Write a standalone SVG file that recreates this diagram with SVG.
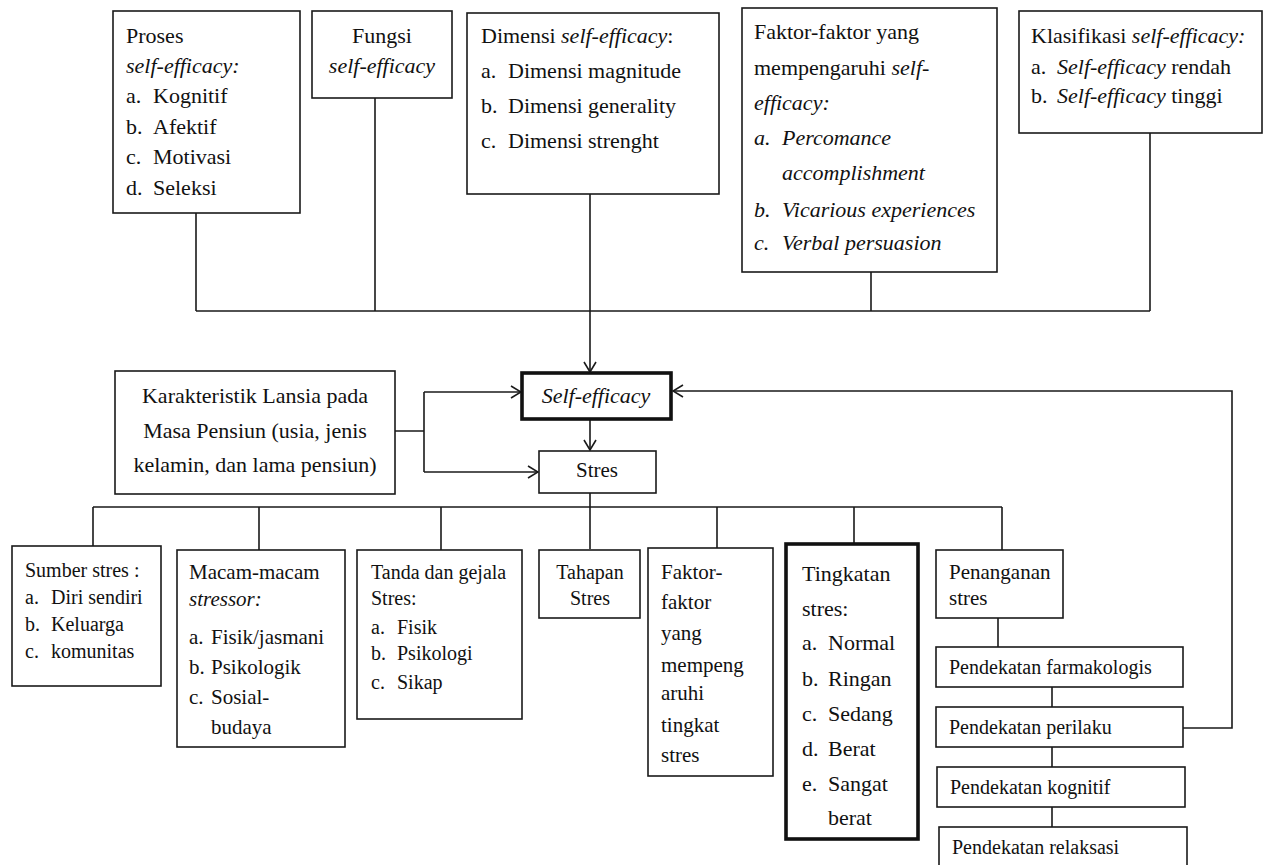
<svg xmlns="http://www.w3.org/2000/svg" width="1267" height="865" viewBox="0 0 1267 865">
<style>
.box{fill:#fff;stroke:#1a1a1a;stroke-width:1.6}
.thick{fill:#fff;stroke:#111;stroke-width:3.6}
.ln{fill:none;stroke:#1a1a1a;stroke-width:1.6}
text{font-family:"Liberation Serif","Times New Roman",serif;fill:#111;font-size:22px}
.i{font-style:italic}
.c{text-anchor:middle}
.s20{font-size:20px}
.s21{font-size:21px}
</style>
<defs>
<marker id="arr" markerWidth="12" markerHeight="14" refX="11" refY="7" orient="auto" markerUnits="userSpaceOnUse">
<path d="M1,1 L11,7 L1,13" fill="none" stroke="#1a1a1a" stroke-width="1.6"/>
</marker>
</defs>
<rect width="1267" height="865" fill="#fff"/>

<g id="connectors">
<path class="ln" d="M196,213 V311 M375,98 V311 M590,194 V311 M871,272 V311 M1150,133 V311 M196,311 H1150"/>
<path class="ln" d="M590,311 V372" marker-end="url(#arr)"/>
<path class="ln" d="M395,431 H424 M424,392 V472"/>
<path class="ln" d="M424,392 H521" marker-end="url(#arr)"/>
<path class="ln" d="M424,472 H538" marker-end="url(#arr)"/>
<path class="ln" d="M590,419 V450" marker-end="url(#arr)"/>
<path class="ln" d="M590,493 V507 M93,507 H1002 M93,507 V546 M259,507 V550 M441,507 V550 M590,507 V549 M717,507 V548 M854,507 V543 M1002,507 V550"/>
<path class="ln" d="M998,618 V647 M1052,687 V707 M1052,747 V767 M1052,807 V827"/>
<path class="ln" d="M1183,728 H1232 V391 H673" marker-end="url(#arr)"/>
</g>

<g id="proses">
<rect class="box" x="113" y="11" width="187" height="202"/>
<text x="126" y="43">Proses</text>
<text x="126" y="73" class="i">self-efficacy:</text>
<text x="126" y="103">a.</text><text x="153" y="103">Kognitif</text>
<text x="126" y="134">b.</text><text x="153" y="134">Afektif</text>
<text x="126" y="164">c.</text><text x="153" y="164">Motivasi</text>
<text x="126" y="195">d.</text><text x="153" y="195">Seleksi</text>
</g>

<g id="fungsi">
<rect class="box" x="312" y="11" width="140" height="87"/>
<text x="382" y="43" class="c">Fungsi</text>
<text x="382" y="73" class="c i">self-efficacy</text>
</g>

<g id="dimensi">
<rect class="box" x="467" y="13" width="252" height="181"/>
<text x="481" y="43">Dimensi <tspan class="i">self-efficacy</tspan>:</text>
<text x="481" y="78">a.</text><text x="508" y="78">Dimensi magnitude</text>
<text x="481" y="113">b.</text><text x="508" y="113">Dimensi generality</text>
<text x="481" y="148">c.</text><text x="508" y="148">Dimensi strenght</text>
</g>

<g id="faktor-se">
<rect class="box" x="742" y="8" width="255" height="264"/>
<text x="754" y="39">Faktor-faktor yang</text>
<text x="754" y="75">mempengaruhi <tspan class="i">self-</tspan></text>
<text x="754" y="110" class="i">efficacy:</text>
<text x="754" y="145" class="i">a.</text><text x="782" y="145" class="i">Percomance</text>
<text x="782" y="180" class="i">accomplishment</text>
<text x="754" y="217" class="i">b.</text><text x="782" y="217" class="i">Vicarious experiences</text>
<text x="754" y="250" class="i">c.</text><text x="782" y="250" class="i">Verbal persuasion</text>
</g>

<g id="klasifikasi">
<rect class="box" x="1019" y="11" width="243" height="122"/>
<text x="1031" y="43">Klasifikasi <tspan class="i">self-efficacy:</tspan></text>
<text x="1031" y="74">a.</text><text x="1057" y="74"><tspan class="i">Self-efficacy</tspan> rendah</text>
<text x="1031" y="103">b.</text><text x="1057" y="103"><tspan class="i">Self-efficacy</tspan> tinggi</text>
</g>

<g id="karakteristik">
<rect class="box" x="115" y="371" width="280" height="123"/>
<text x="255" y="403" class="c">Karakteristik Lansia pada</text>
<text x="255" y="438" class="c">Masa Pensiun (usia, jenis</text>
<text x="255" y="472" class="c">kelamin, dan lama pensiun)</text>
</g>

<g id="self-efficacy">
<rect class="thick" x="522" y="373" width="149" height="46"/>
<text x="596" y="403" class="c i">Self-efficacy</text>
</g>

<g id="stres">
<rect class="box" x="539" y="451" width="117" height="42"/>
<text x="597" y="477" class="c s21">Stres</text>
</g>

<g id="sumber">
<rect class="box" x="12" y="546" width="149" height="140"/>
<text x="25" y="577" class="s20">Sumber stres :</text>
<text x="25" y="604" class="s20">a.</text><text x="51" y="604" class="s20">Diri sendiri</text>
<text x="25" y="631" class="s20">b.</text><text x="51" y="631" class="s20">Keluarga</text>
<text x="25" y="658" class="s20">c.</text><text x="51" y="658" class="s20">komunitas</text>
</g>

<g id="macam">
<rect class="box" x="177" y="550" width="168" height="197"/>
<text x="189" y="579" class="s21">Macam-macam</text>
<text x="189" y="606" class="s21 i">stressor:</text>
<text x="189" y="644" class="s21">a.</text><text x="211" y="644" class="s21">Fisik/jasmani</text>
<text x="189" y="674" class="s21">b.</text><text x="211" y="674" class="s21">Psikologik</text>
<text x="189" y="704" class="s21">c.</text><text x="211" y="704" class="s21">Sosial-</text>
<text x="211" y="734" class="s21">budaya</text>
</g>

<g id="tanda">
<rect class="box" x="357" y="550" width="165" height="169"/>
<text x="371" y="579" class="s20">Tanda dan gejala</text>
<text x="371" y="605" class="s20">Stres:</text>
<text x="371" y="634" class="s20">a.</text><text x="397" y="634" class="s20">Fisik</text>
<text x="371" y="660" class="s20">b.</text><text x="397" y="660" class="s20">Psikologi</text>
<text x="371" y="689" class="s20">c.</text><text x="397" y="689" class="s20">Sikap</text>
</g>

<g id="tahapan">
<rect class="box" x="539" y="550" width="101" height="68"/>
<text x="590" y="579" class="c s20">Tahapan</text>
<text x="590" y="605" class="c s20">Stres</text>
</g>

<g id="faktor-stres">
<rect class="box" x="648" y="548" width="125" height="228"/>
<text x="661" y="579" class="s21">Faktor-</text>
<text x="661" y="609" class="s21">faktor</text>
<text x="661" y="640" class="s21">yang</text>
<text x="661" y="672" class="s21">mempeng</text>
<text x="661" y="700" class="s21">aruhi</text>
<text x="661" y="732" class="s21">tingkat</text>
<text x="661" y="762" class="s21">stres</text>
</g>

<g id="tingkatan">
<rect class="thick" x="786" y="544" width="132" height="295"/>
<text x="802" y="581">Tingkatan</text>
<text x="802" y="616">stres:</text>
<text x="802" y="650">a.</text><text x="828" y="650">Normal</text>
<text x="802" y="686">b.</text><text x="828" y="686">Ringan</text>
<text x="802" y="721">c.</text><text x="828" y="721">Sedang</text>
<text x="802" y="756">d.</text><text x="828" y="756">Berat</text>
<text x="802" y="791">e.</text><text x="828" y="791">Sangat</text>
<text x="828" y="825">berat</text>
</g>

<g id="penanganan">
<rect class="box" x="936" y="550" width="127" height="68"/>
<text x="949" y="579" class="s21">Penanganan</text>
<text x="949" y="605" class="s21">stres</text>
</g>

<g id="farmakologis">
<rect class="box" x="936" y="647" width="247" height="40"/>
<text x="949" y="674" class="s20">Pendekatan farmakologis</text>
</g>

<g id="perilaku">
<rect class="box" x="936" y="707" width="247" height="40"/>
<text x="949" y="734" class="s20">Pendekatan perilaku</text>
</g>

<g id="kognitif">
<rect class="box" x="937" y="767" width="248" height="40"/>
<text x="950" y="794" class="s20">Pendekatan kognitif</text>
</g>

<g id="relaksasi">
<rect class="box" x="939" y="827" width="248" height="45"/>
<text x="952" y="854" class="s20">Pendekatan relaksasi</text>
</g>
</svg>
